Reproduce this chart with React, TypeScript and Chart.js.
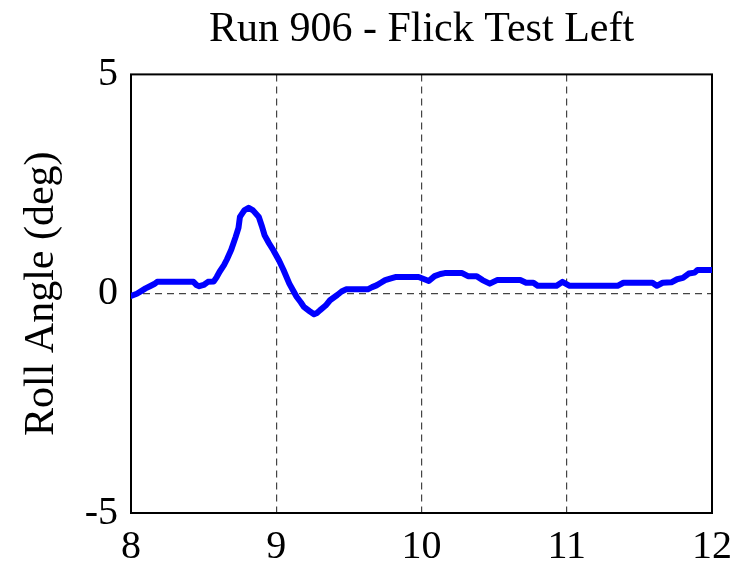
import React, { useEffect, useRef } from "react";
import { Chart, registerables } from "chart.js";

Chart.register(...registerables);

const TITLE = "Run 906 - Flick Test Left";
const Y_LABEL = "Roll Angle (deg)";
const X_TICKS = [8, 9, 10, 11, 12];
const Y_TICKS = [-5, 0, 5];
const X_GRID = [9, 10, 11];
const Y_GRID = [0];

const TIME = [
  8.0, 8.04, 8.07, 8.1, 8.13, 8.16, 8.18, 8.25, 8.35, 8.43, 8.45, 8.47, 8.5, 8.53, 8.57, 8.59,
  8.61, 8.64, 8.66, 8.69, 8.72, 8.74, 8.75, 8.78, 8.81, 8.84, 8.88, 8.9, 8.92, 8.95, 8.98, 9.02,
  9.05, 9.09, 9.12, 9.14, 9.17, 9.19, 9.23, 9.26, 9.28, 9.3, 9.34, 9.37, 9.42, 9.45, 9.48, 9.55,
  9.63, 9.66, 9.69, 9.72, 9.75, 9.79, 9.82, 9.9, 9.98, 10.02, 10.05, 10.09, 10.13, 10.16, 10.22,
  10.28, 10.32, 10.38, 10.42, 10.47, 10.52, 10.6, 10.68, 10.72, 10.77, 10.8, 10.87, 10.93, 10.97,
  11.02, 11.1, 11.2, 11.35, 11.39, 11.5, 11.59, 11.62, 11.66, 11.72, 11.76, 11.8, 11.84, 11.88,
  11.9, 11.95, 12.0,
];

const ROLL = [
  -0.05, 0.0, 0.06, 0.12, 0.17, 0.22, 0.27, 0.27, 0.27, 0.27, 0.2, 0.17, 0.2, 0.27, 0.28, 0.38,
  0.5, 0.65, 0.78, 1.0, 1.29, 1.5, 1.75, 1.9, 1.96, 1.9, 1.75, 1.55, 1.33, 1.15, 0.99, 0.75,
  0.54, 0.23, 0.05, -0.07, -0.2, -0.3, -0.4, -0.47, -0.44, -0.38, -0.27, -0.15, -0.03, 0.05, 0.1, 0.1,
  0.1, 0.15, 0.19, 0.25, 0.31, 0.35, 0.38, 0.38, 0.38, 0.33, 0.29, 0.4, 0.45, 0.47, 0.47,
  0.47, 0.4, 0.4, 0.31, 0.23, 0.31, 0.31, 0.31, 0.25, 0.25, 0.18, 0.18, 0.18, 0.27,
  0.18, 0.18, 0.18, 0.18, 0.25, 0.25, 0.25, 0.18, 0.25, 0.26, 0.33, 0.36, 0.46, 0.48,
  0.54, 0.54, 0.54,
];

const FONT_FAMILY = "'Liberation Serif', 'Times New Roman', Times, serif";

const boxPlugin = {
  id: "axesBox",
  afterLayout(chart: any) {
    const tb = chart.titleBlock;
    if (tb) {
      tb.left = chart.chartArea.left;
      tb.right = chart.chartArea.right;
    }
  },
  beforeDatasetsDraw(chart: any) {
    const { ctx, chartArea } = chart;
    ctx.save();
    ctx.strokeStyle = "#000";
    ctx.lineWidth = 2;
    ctx.setLineDash([]);
    ctx.strokeRect(
      chartArea.left,
      chartArea.top,
      chartArea.right - chartArea.left,
      chartArea.bottom - chartArea.top
    );
    ctx.restore();
  },
};

export default function App() {
  const ref = useRef<HTMLCanvasElement | null>(null);

  useEffect(() => {
    document.body.style.margin = "0";
    const canvas = ref.current;
    if (!canvas) return;
    const data = TIME.map((t, i) => ({ x: t, y: ROLL[i] }));
    const chart = new Chart(canvas, {
      type: "line",
      data: {
        datasets: [
          {
            data,
            borderColor: "#0000ff",
            borderWidth: 6,
            pointRadius: 0,
            tension: 0,
            fill: false,
            borderJoinStyle: "round",
            borderCapStyle: "round",
          },
        ],
      },
      options: {
        animation: false,
        responsive: false,
        devicePixelRatio: 1,
        layout: { padding: { left: 0, right: 27, top: 0, bottom: 0 } },
        plugins: {
          legend: { display: false },
          tooltip: { enabled: false },
          title: {
            display: true,
            text: TITLE,
            color: "#000",
            font: { family: FONT_FAMILY, size: 42, weight: "normal", lineHeight: 1.2 },
            padding: { top: 5, bottom: 19 },
          },
        },
        scales: {
          x: {
            type: "linear",
            min: 8,
            max: 12,
            afterBuildTicks: (s: any) => {
              s.ticks = X_TICKS.map((v) => ({ value: v }));
            },
            afterFit: (s: any) => {
              s.height = 53;
              s.paddingRight = 0;
              s.paddingLeft = 0;
            },
            ticks: {
              color: "#000",
              font: { family: FONT_FAMILY, size: 40, lineHeight: 1.2 },
              padding: 10,
              maxRotation: 0,
              autoSkip: false,
            },
            grid: {
              drawTicks: false,
              lineWidth: 1.2,
              color: (c: any) =>
                c.tick && X_GRID.includes(c.tick.value) ? "#444" : "rgba(0,0,0,0)",
            },
            border: { display: false, dash: [7, 5] },
          },
          y: {
            type: "linear",
            min: -5,
            max: 5,
            afterBuildTicks: (s: any) => {
              s.ticks = Y_TICKS.map((v) => ({ value: v }));
            },
            afterFit: (s: any) => {
              s.width = 131;
            },
            ticks: {
              color: "#000",
              font: { family: FONT_FAMILY, size: 40, lineHeight: 1.2 },
              padding: 13,
              autoSkip: false,
            },
            grid: {
              drawTicks: false,
              lineWidth: 1.2,
              color: (c: any) =>
                c.tick && Y_GRID.includes(c.tick.value) ? "#444" : "rgba(0,0,0,0)",
            },
            border: { display: false, dash: [7, 5] },
            title: {
              display: true,
              text: Y_LABEL,
              color: "#000",
              font: { family: FONT_FAMILY, size: 42, lineHeight: 1.2 },
              padding: { top: 17, bottom: 0 },
            },
          },
        },
      },
      plugins: [boxPlugin],
    });
    return () => chart.destroy();
  }, []);

  return (
    <div style={{ width: 739, height: 566, background: "#fff" }}>
      <canvas ref={ref} width={739} height={566} style={{ display: "block" }} />
    </div>
  );
}
